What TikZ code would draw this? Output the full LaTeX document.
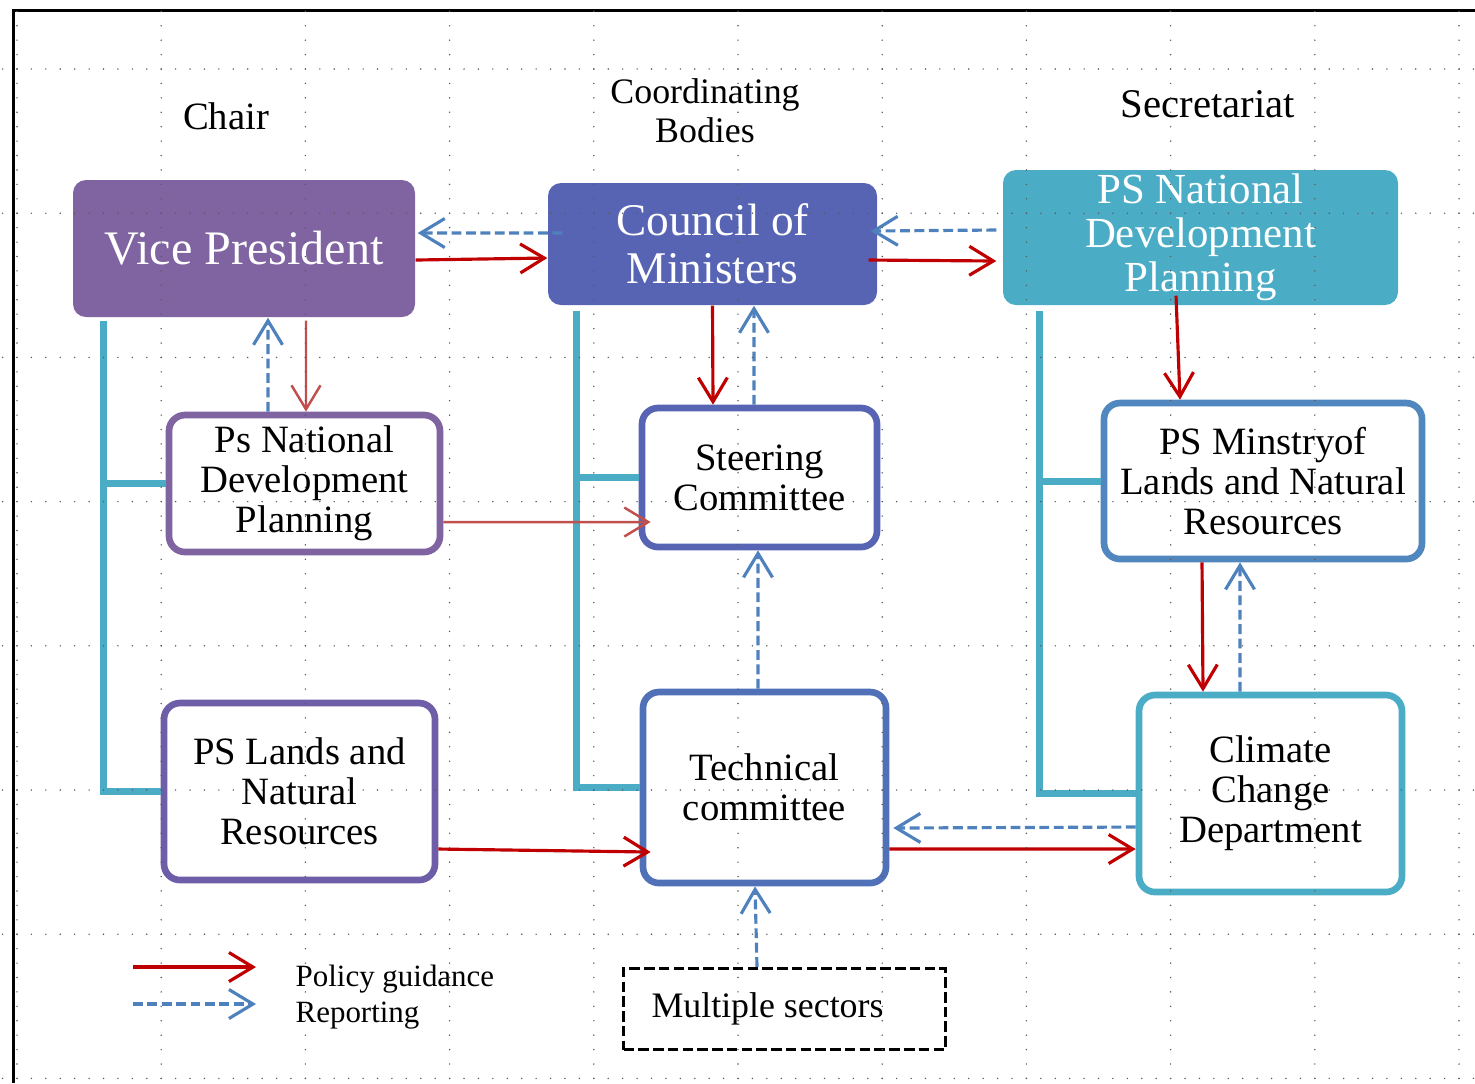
\documentclass[tikz,border=0pt]{standalone}
\usepackage{fontspec}
\setmainfont{Liberation Serif}
\usetikzlibrary{arrows.meta}

\definecolor{vpPurple}{RGB}{128,100,162}
\definecolor{cmBlue}{RGB}{87,100,179}
\definecolor{aqua}{RGB}{75,172,198}
\definecolor{landsPurple}{RGB}{110,94,168}
\definecolor{techBlue}{RGB}{80,113,184}
\definecolor{minBlue}{RGB}{79,135,190}
\definecolor{polRed}{RGB}{192,0,0}
\definecolor{polRedLight}{RGB}{192,80,77}
\definecolor{repBlue}{RGB}{79,129,189}

\begin{document}
\begin{tikzpicture}[x=0.1mm, y=-0.1mm,
  >={Straight Barb[length=2.4mm,width=2.9mm]},
  filled/.style={rectangle, rounded corners=1.3mm, text=white, inner xsep=1mm, inner ysep=0mm, align=center},
  framed/.style={rectangle, rounded corners=1.6mm, draw, line width=1.9pt, fill=white, align=center,
    inner sep=1mm, font=\fontsize{11}{11.4}\selectfont},
  policy/.style={->, polRed, line width=0.9pt},
  report/.style={->, repBlue, line width=0.9pt, dash pattern=on 2.8pt off 1.3pt},
  trunk/.style={aqua, line width=2pt},
  heading/.style={font=\fontsize{10.6}{11.1}\selectfont, align=center}]
  \useasboundingbox (0,0) rectangle (1475,1083);

  % column headings
  \node[heading, font=\fontsize{11}{11.1}\selectfont] (chair) at (226,116) {Chair};
  \node[heading, font=\fontsize{10.2}{11.1}\selectfont] (coord) at (705,111) {Coordinating\\Bodies};
  \node[heading, font=\fontsize{11.6}{11.1}\selectfont] (secr) at (1208,104) {Secretariat};

  % top row
  \node[filled, fill=vpPurple, minimum width=34.2mm, minimum height=13.7mm,
    font=\fontsize{13.7}{14}\selectfont] (vp) at (244,248.5) {Vice President};
  \node[filled, fill=cmBlue, minimum width=32.9mm, minimum height=12.2mm,
    font=\fontsize{12.9}{13.7}\selectfont] (cm) at (712.5,244) {Council of\\Ministers};
  \node[filled, fill=aqua, minimum width=39.5mm, minimum height=13.5mm,
    font=\fontsize{12.2}{12.5}\selectfont] (sec) at (1200.5,237.5) {PS National\\Development\\Planning};

  % second row
  \node[framed, draw=vpPurple, minimum width=27.1mm, minimum height=13.7mm] (pnd) at (304.5,483.5)
    {Ps National\\Development\\Planning};
  \node[framed, draw=cmBlue, minimum width=23.5mm, minimum height=13.9mm] (sc) at (759.5,477.5)
    {Steering\\Committee};
  \node[framed, draw=minBlue, minimum width=31.8mm, minimum height=15.6mm] (min) at (1263,481)
    {PS Minstryof\\Lands and Natural\\Resources};

  % third row
  \node[framed, draw=landsPurple, minimum width=27.1mm, minimum height=17.7mm] (psl) at (299.5,791.5)
    {PS Lands and\\Natural\\Resources};
  \node[framed, draw=techBlue, minimum width=24.3mm, minimum height=19.1mm] (tc) at (764.5,787.5)
    {Technical\\committee};
  \node[framed, draw=aqua, minimum width=26.3mm, minimum height=19.7mm] (ccd) at (1270.5,793.5)
    {Climate\\Change\\Department};

  % sectors
  \node[draw, line width=0.9pt, dash pattern=on 3pt off 1.2pt, minimum width=32.2mm, minimum height=8.1mm,
    font=\fontsize{10.2}{11}\selectfont] (ms) at (784.5,1009) {Multiple sectors\hspace*{3.4mm}};

  % aqua links
  \coordinate (lt) at ([xshift=3.1mm, yshift=-0.3mm]vp.south west);
  \draw[trunk] (lt) |- (psl.west);
  \draw[trunk] (pnd.west) -- (pnd.west -| lt);
  \coordinate (mt) at ([xshift=2.9mm, yshift=-0.5mm]cm.south west);
  \draw[trunk] (mt) |- (tc.west);
  \draw[trunk] (sc.west) -- (sc.west -| mt);
  \coordinate (rt) at ([xshift=3.7mm, yshift=-0.5mm]sec.south west);
  \draw[trunk] (rt) |- (ccd.west);
  \draw[trunk] (min.west) -- (min.west -| rt);

  % policy guidance
  \draw[policy] ([yshift=-1.15mm]vp.east) -- ([yshift=-1.4mm]cm.west);
  \draw[policy] ([xshift=-0.9mm, yshift=-1.6mm]cm.east) -- ([xshift=-0.6mm, yshift=-2.35mm]sec.west);
  \draw[policy] (cm.south) -- ([xshift=-4.65mm]sc.north);
  \draw[policy] ([xshift=-2.45mm, yshift=1mm]sec.south) -- ([xshift=-8.3mm]min.north);
  \draw[policy] ([xshift=-6.1mm]min.south) -- ([xshift=-6.75mm]ccd.north);
  \draw[policy] ([yshift=-5.75mm]psl.east) -- ([xshift=1.1mm, yshift=-6.45mm]tc.west);
  \draw[policy] ([yshift=-6.15mm]tc.east) -- ([yshift=-5.55mm]ccd.west);
  \draw[policy, polRedLight, line width=0.7pt] ([xshift=6.2mm, yshift=-0.3mm]vp.south) -- ([xshift=0.15mm]pnd.north);
  \draw[policy, polRedLight, line width=0.7pt] ([yshift=-3.85mm]pnd.east) -- ([xshift=1.2mm, yshift=-4.45mm]sc.west);

  % reporting
  \draw[report] ([xshift=1.5mm, yshift=1.1mm]cm.west) -- ([xshift=0.2mm, yshift=1.55mm]vp.east);
  \draw[report] ([xshift=-0.6mm, yshift=0.75mm]sec.west) -- ([xshift=-0.7mm, yshift=1.3mm]cm.east);
  \draw[report] ([xshift=-3.65mm]pnd.north) -- ([xshift=2.4mm]vp.south);
  \draw[report] ([xshift=-0.55mm]sc.north) -- ([xshift=4.15mm]cm.south);
  \draw[report] ([xshift=-0.65mm]tc.north) -- ([xshift=-0.15mm]sc.south);
  \draw[report] ([xshift=-3.05mm]ccd.north) -- ([xshift=-2.3mm]min.south);
  \draw[report] ([yshift=-3.35mm]ccd.west) -- ([xshift=0.4mm, yshift=-4.05mm]tc.east);
  \draw[report] ([xshift=-2.75mm]ms.north) -- ([xshift=-0.95mm]tc.south);

  % legend
  \coordinate (polA) at (133,967);
  \coordinate (polB) at (256,967);
  \coordinate (repA) at (133,1004);
  \coordinate (repB) at (256,1004);
  \draw[policy] (polA) -- (polB);
  \draw[report] (repA) -- (repB);
  \node[anchor=west, align=left, inner sep=0pt, font=\fontsize{8.8}{10}\selectfont] (key) at (295,997)
    {Policy guidance\\Reporting};

  % page frame and dotted grid
  \draw[line width=0.3mm] (13,1083) -- (13,10) -- (1475,10);
  \foreach \gy in {0,...,7}
    \foreach \k in {-1,...,101}
      \fill[black!65] ({17+14.42*\k},{69+144.2*\gy}) circle (0.08mm);
  \foreach \gx in {0,...,10}
    \foreach \k in {-4,...,70}
      \fill[black!65] ({17+144.2*\gx},{69+14.42*\k}) circle (0.08mm);
\end{tikzpicture}
\end{document}
